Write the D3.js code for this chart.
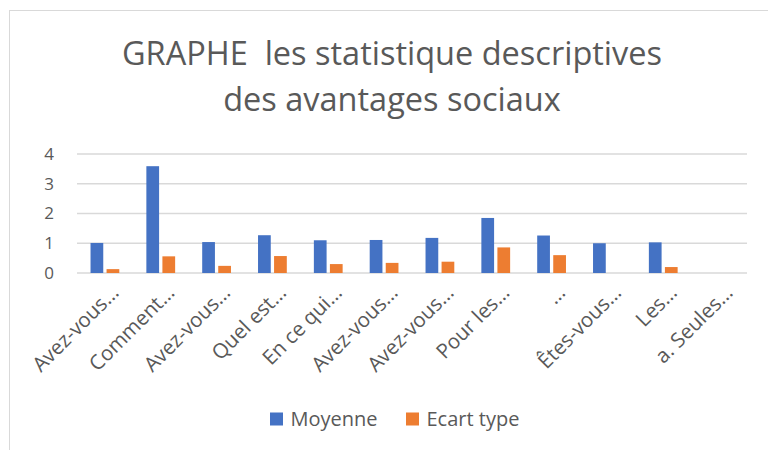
<!DOCTYPE html>
<html><head><meta charset="utf-8">
<script src="https://cdn.jsdelivr.net/npm/d3@7"></script>
<style>html,body{margin:0;padding:0;background:#fff;}svg{display:block;}</style>
</head><body>
<svg id="chart" width="768" height="450"></svg>
<script>
const categories = ["Avez-vous…","Comment…","Avez-vous…","Quel est…","En ce qui…","Avez-vous…","Avez-vous…","Pour les…","…","Êtes-vous…","Les…","a. Seules…"];
const moyenne = [1.01, 3.59, 1.04, 1.27, 1.10, 1.11, 1.18, 1.85, 1.26, 1.00, 1.03, 0];
const ecartType = [0.13, 0.56, 0.24, 0.57, 0.30, 0.34, 0.38, 0.86, 0.60, 0, 0.20, 0];
const seriesNames = ["Moyenne", "Ecart type"];
const seriesColors = ["#4472C4", "#ED7D31"];
const yTicks = [0, 1, 2, 3, 4];
const titleLines = ["GRAPHE  les statistique descriptives", "des avantages sociaux"];

(function () {
const svg = d3.select("#chart");
const FONT = "'Open Sans', sans-serif";
const TXT = "#595959";

// chart border
svg.append("rect").attr("x", 9.5).attr("y", 10.5).attr("width", 780).attr("height", 460)
  .attr("fill", "#fff").attr("stroke", "#d9d9d9").attr("stroke-width", 1);

// title
svg.append("text").attr("x", 392).attr("y", 65).attr("text-anchor", "middle").attr("xml:space", "preserve")
  .style("white-space", "pre")
  .attr("font-family", FONT).attr("font-size", 32.5).attr("fill", TXT).text(titleLines[0]);
svg.append("text").attr("x", 392).attr("y", 111).attr("text-anchor", "middle")
  .attr("font-family", FONT).attr("font-size", 32.5).attr("fill", TXT).text(titleLines[1]);

const pLeft = 77, pRight = 747, pTop = 154, pBottom = 273;
const x = d3.scaleBand().domain(d3.range(categories.length)).range([pLeft, pRight]).padding(0);
const y = d3.scaleLinear().domain([0, 4]).range([pBottom, pTop]);

// gridlines
svg.append("g").selectAll("line").data(yTicks).join("line")
  .attr("x1", pLeft).attr("x2", pRight)
  .attr("y1", d => y(d)).attr("y2", d => y(d))
  .attr("stroke", "#d9d9d9").attr("stroke-width", 1.3);

// y labels
svg.append("g").selectAll("text").data(yTicks).join("text")
  .attr("x", 54).attr("y", d => y(d)).attr("dy", "0.35em").attr("text-anchor", "end")
  .attr("font-family", FONT).attr("font-size", 17).attr("fill", TXT).text(d => d);

const bw = x.bandwidth() * 0.228;
const gap = bw * 0.26;
const series = [moyenne, ecartType];
series.forEach((vals, si) => {
  svg.append("g").selectAll("rect").data(vals).join("rect")
    .attr("x", (d, i) => {
      const c = x(i) + x.bandwidth() / 2;
      return si === 0 ? c - gap / 2 - bw : c + gap / 2;
    })
    .attr("y", d => y(d)).attr("width", bw).attr("height", d => y(0) - y(d))
    .attr("fill", seriesColors[si]);
});

// category labels
svg.append("g").selectAll("text").data(categories).join("text")
  .attr("transform", (d, i) => `translate(${x(i) + x.bandwidth() / 2 + 15},${pBottom + 21}) rotate(-45)`)
  .attr("text-anchor", "end")
  .attr("font-family", FONT).attr("font-size", 20.5).attr("fill", TXT).text(d => d);

// legend
const legX = [270, 406];
seriesNames.forEach((n, i) => {
  svg.append("rect").attr("x", legX[i]).attr("y", 412.5).attr("width", 13).attr("height", 13)
    .attr("fill", seriesColors[i]);
  svg.append("text").attr("x", legX[i] + 20.5).attr("y", 419).attr("dy", "0.35em")
    .attr("font-family", FONT).attr("font-size", 20).attr("fill", TXT).text(n);
});
})();
</script>
</body></html>
